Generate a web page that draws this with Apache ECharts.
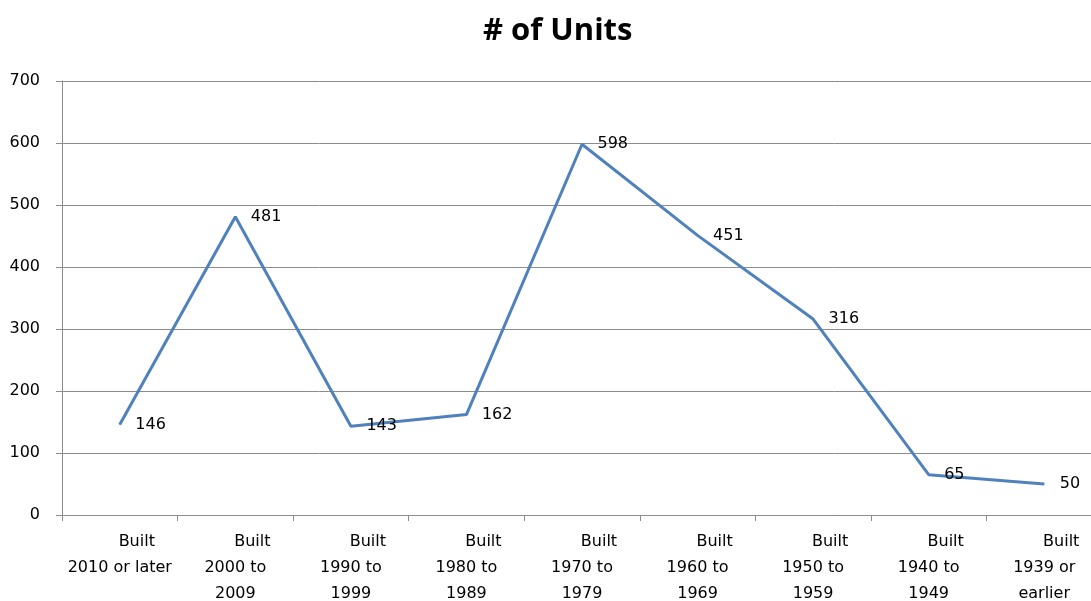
<!DOCTYPE html>
<html>
<head>
<meta charset="utf-8">
<script src="https://cdn.jsdelivr.net/npm/echarts@6/dist/echarts.min.js"></script>
<style>
  html, body { margin: 0; padding: 0; background: #fff; }
  #main { width: 1091px; height: 601px; }
</style>
</head>
<body>
<div id="main"></div>
<script>
// categories (the "Built" line is added by the formatter)
var periods = ['2010 or later', '2000 to\n2009', '1990 to\n1999', '1980 to\n1989', '1970 to\n1979',
  '1960 to\n1969', '1950 to\n1959', '1940 to\n1949', '1939 or\nearlier']
var units = [146, 481, 143, 162, 598, 451, 316, 65, 50]
var yTicks = [0, 100, 200, 300, 400, 500, 600, 700]

var chart = echarts.init(document.getElementById('main'))
var gridColor = '#8c8c8c'
var labelFont = 'DejaVu Sans'

var option = {
  backgroundColor: '#ffffff',
  animation: false,
  title: {
    text: '# of Units',
    left: 478,
    top: 11,
    textStyle: {
      fontFamily: 'Open Sans',
      fontWeight: 'bold',
      fontSize: 31,
      color: '#000'
    }
  },
  grid: {
    left: 62,
    width: 1040,
    top: 81,
    bottom: 86,
    outerBoundsMode: 'none'
  },
  xAxis: {
    type: 'category',
    data: periods,
    boundaryGap: true,
    axisLine: { lineStyle: { color: gridColor } },
    axisTick: { show: true, length: 6, lineStyle: { color: gridColor } },
    axisLabel: {
      interval: 0,
      margin: 14,
      color: '#000',
      fontFamily: labelFont,
      fontSize: 16,
      lineHeight: 26,
      formatter: function (v) {
        return '{b|Built}\n' + v
      },
      rich: {
        b: { padding: [0, 0, 0, 34], fontFamily: labelFont, fontSize: 16, lineHeight: 26, color: '#000' }
      }
    }
  },
  yAxis: {
    type: 'value',
    min: yTicks[0],
    max: yTicks[yTicks.length - 1],
    interval: 100,
    axisLine: { show: true, lineStyle: { color: gridColor } },
    axisTick: { show: true, length: 6, lineStyle: { color: gridColor } },
    splitLine: { lineStyle: { color: gridColor } },
    axisLabel: {
      margin: 22,
      color: '#000',
      fontFamily: labelFont,
      fontSize: 16
    }
  },
  series: [{
    name: '# of Units',
    type: 'line',
    data: units,
    symbol: 'circle',
    symbolSize: 1,
    showSymbol: true,
    itemStyle: { color: '#4f81bd' },
    lineStyle: { color: '#4f81bd', width: 3 },
    label: {
      show: true,
      position: 'right',
      distance: 15,
      color: '#000',
      fontFamily: labelFont,
      fontSize: 16
    }
  }]
}
chart.setOption(option)
</script>
</body>
</html>
